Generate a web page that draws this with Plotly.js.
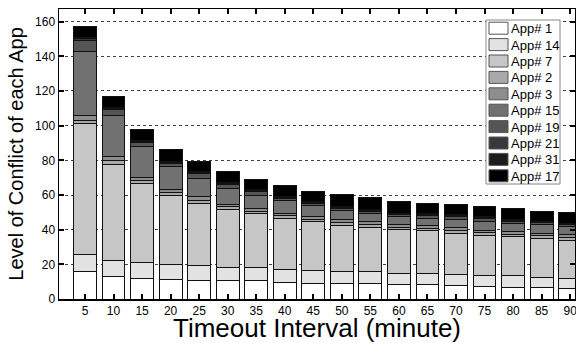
<!DOCTYPE html>
<html>
<head>
<meta charset="utf-8">
<script src="https://cdn.plot.ly/plotly-3.0.1.min.js"></script>
<style>html,body{margin:0;padding:0;background:#fff;}#chart{width:576px;height:343px;}</style>
</head>
<body>
<div id="chart"></div>
<script>
const categories = [5,10,15,20,25,30,35,40,45,50,55,60,65,70,75,80,85,90];
const app1  = [15.6,12.7,11.9,11.1,10.6,10.6,10.4,9.8,9.2,8.7,8.7,8.3,8.5,7.9,7.3,6.9,6.6,6.2];
const app14 = [10.3,9.5,9.0,8.9,8.6,7.8,7.5,7.5,7.5,7.4,6.9,6.7,6.4,6.5,6.5,6.4,5.9,5.7];
const app7  = [75.3,55.6,45.8,39.8,36.0,33.4,31.2,29.3,28.0,26.1,25.8,25.1,24.4,23.6,23.0,22.5,22.6,21.8];
const app2  = [2.0,2.0,1.6,1.5,1.8,1.4,1.5,1.4,1.3,1.8,1.5,1.3,1.4,1.6,1.3,1.5,1.4,1.6];
const app3  = [2.4,2.2,1.9,2.0,2.0,1.6,1.7,1.5,1.5,2.0,1.8,1.4,1.5,1.8,1.4,1.6,1.5,1.7];
const app15 = [37.4,24.0,17.6,13.4,10.6,9.0,7.7,7.1,6.2,5.2,4.8,4.7,4.4,4.6,5.2,4.8,4.8,4.8];
const app19 = [6.4,3.4,2.4,1.6,2.6,2.1,1.9,1.4,1.5,1.1,1.1,1.2,1.5,1.5,1.8,1.3,1.1,1.1];
const app21 = [0.6,0.5,0.5,0.4,0.6,0.6,0.5,0.5,0.5,0.4,0.4,0.4,0.5,0.5,0.5,0.5,0.4,0.4];
const app31 = [0.6,0.5,0.5,0.4,0.6,0.6,0.5,0.5,0.5,0.4,0.4,0.4,0.5,0.5,0.5,0.5,0.4,0.4];
const app17 = [6.7,6.5,6.7,7.2,6.1,6.7,6.1,6.3,6.1,7.4,7.1,6.7,6.1,6.2,5.8,6.1,5.9,6.1];

const seriesNames = ['App# 1','App# 14','App# 7','App# 2','App# 3','App# 15','App# 19','App# 21','App# 31','App# 17'];
const seriesValues = [app1,app14,app7,app2,app3,app15,app19,app21,app31,app17];
const seriesColors = ['#ffffff','#e2e2e2','#c6c6c6','#a9a9a9','#8d8d8d','#717171','#555555','#393939','#1c1c1c','#000000'];

const FONT = 'Liberation Sans, Arial, sans-serif';
const W = 576, H = 343, ML = 59, MR = 1, MT = 9, MB = 44;
const PW = W - ML - MR, PH = H - MT - MB;
const px2x = p => (p - ML) / PW;
const py2y = p => 1 - (p - MT) / PH;

const traces = seriesNames.map((n,i)=>({
  type:'bar', name:n, x:categories, y:seriesValues[i], width:4,
  marker:{color:seriesColors[i], line:{color:'#111', width:1}}
}));

// legend drawn in paper space (box + swatches + labels)
const legBox = {x0:486, x1:560, y0:20, y1:184};
const rowH = (legBox.y1 - legBox.y0) / seriesNames.length;
const shapes = [{type:'rect', xref:'paper', yref:'paper',
  x0:px2x(legBox.x0), x1:px2x(legBox.x1), y0:py2y(legBox.y1), y1:py2y(legBox.y0),
  fillcolor:'#fff', line:{color:'#888', width:1}, layer:'above'}];
const annotations = [];
seriesNames.forEach((n,i)=>{
  const cy = legBox.y0 + rowH*(i+0.5);
  shapes.push({type:'rect', xref:'paper', yref:'paper',
    x0:px2x(489), x1:px2x(508), y0:py2y(cy+6), y1:py2y(cy-6),
    fillcolor:seriesColors[i], line:{color:'#555', width:1}, layer:'above'});
  annotations.push({xref:'paper', yref:'paper', x:px2x(509), y:py2y(cy+0.5),
    xanchor:'left', yanchor:'middle', showarrow:false, text:n,
    font:{size:13, family:FONT, color:'#000'}});
});

const layout = {
  width:W, height:H,
  margin:{l:ML, r:MR, t:MT, b:MB},
  paper_bgcolor:'#fff', plot_bgcolor:'#fff',
  barmode:'stack', bargap:0,
  font:{family:FONT, color:'#000'},
  showlegend:false,
  shapes:shapes, annotations:annotations,
  xaxis:{range:[0.45,90.85], tickvals:categories, ticktext:categories.map(String),
    ticks:'inside', ticklen:5, tickwidth:2, tickcolor:'#000', mirror:'ticks',
    showline:true, linecolor:'#000', linewidth:1.5, showgrid:false, zeroline:false,
    ticklabeloverflow:'allow',
    tickfont:{size:12, family:FONT},
    title:{text:'Timeout Interval (minute)', font:{size:26, family:FONT}, standoff:3}},
  yaxis:{range:[0,167.3], tickvals:[0,20,40,60,80,100,120,140,160],
    ticks:'inside', ticklen:5, tickwidth:2, tickcolor:'#000', mirror:'ticks',
    showline:true, linecolor:'#000', linewidth:1.5, zeroline:false,
    showgrid:true, gridcolor:'#444', griddash:'dot', gridwidth:1,
    tickfont:{size:12, family:FONT},
    title:{text:'Level of Conflict of each App', font:{size:20, family:FONT}, standoff:6}}
};
Plotly.newPlot('chart', traces, layout, {displayModeBar:false, staticPlot:true});
</script>
</body>
</html>
